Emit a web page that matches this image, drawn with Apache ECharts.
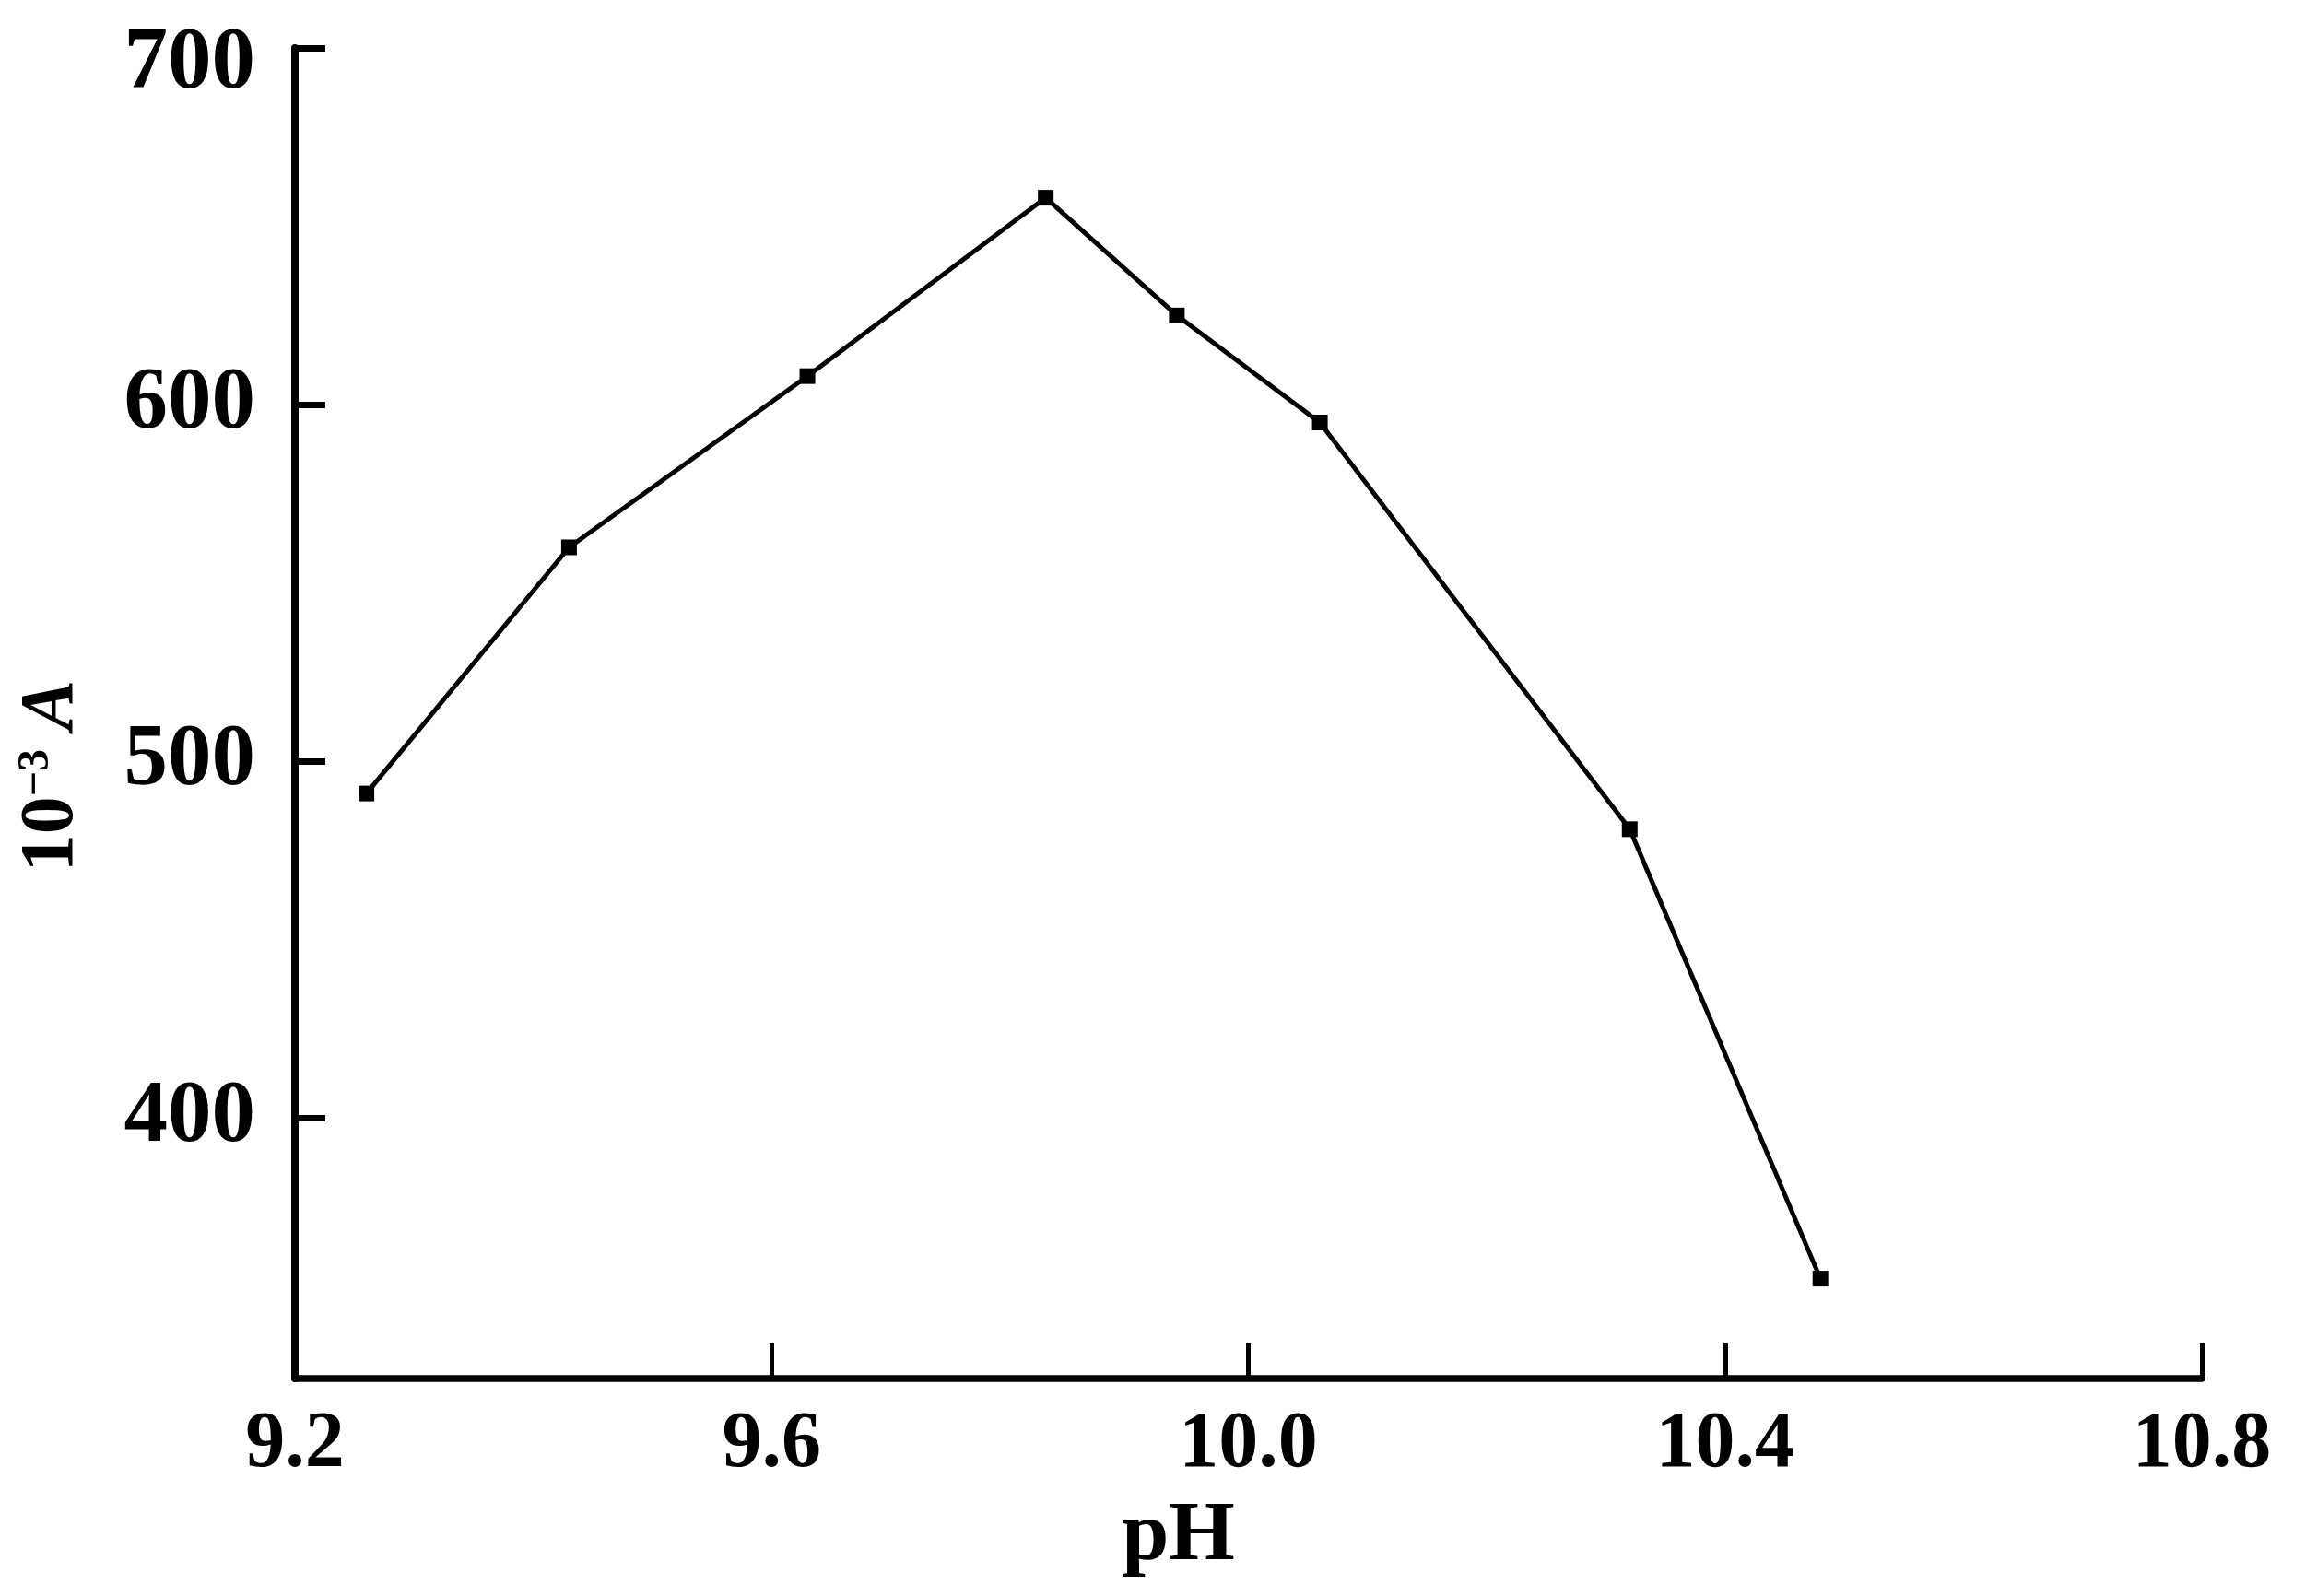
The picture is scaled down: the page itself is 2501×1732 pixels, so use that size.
<!DOCTYPE html>
<html>
<head>
<meta charset="utf-8">
<script src="https://cdn.jsdelivr.net/npm/echarts@6/dist/echarts.min.js"></script>
<style>
  html, body { margin: 0; padding: 0; background: #fff; }
  #chart { width: 2501px; height: 1732px; }
</style>
</head>
<body>
<div id="chart"></div>
<script>
  // pH values and absorbance (10^-3 A)
  var phValues = [9.26, 9.43, 9.63, 9.83, 9.94, 10.06, 10.32, 10.48];
  var absValues = [491, 560, 608, 658, 625, 595, 481, 355];
  var yTicks = [400, 500, 600, 700];

  var serif = '"Liberation Serif", "Times New Roman", serif';

  var points = [];
  for (var i = 0; i < phValues.length; i++) {
    points.push([phValues[i], absValues[i]]);
  }

  var myChart = echarts.init(document.getElementById('chart'));

  myChart.setOption({
    animation: false,
    backgroundColor: '#fff',
    grid: {
      left: 320,
      right: 112,
      top: 52,
      bottom: 236,
      containLabel: false,
      outerBoundsMode: 'none'
    },
    xAxis: {
      type: 'value',
      min: 9.2,
      max: 10.8,
      interval: 0.4,
      splitLine: { show: false },
      axisLine: { lineStyle: { color: '#000', width: 7.5 } },
      axisTick: { inside: true, length: 39, lineStyle: { color: '#000', width: 5 } },
      axisLabel: {
        margin: 30,
        color: '#000',
        fontSize: 86,
        fontWeight: 'bold',
        fontFamily: serif,
        formatter: function (v) { return v.toFixed(1); }
      },
      name: 'pH',
      nameLocation: 'middle',
      nameGap: 126,
      nameTextStyle: {
        color: '#000',
        fontSize: 92,
        fontWeight: 'bold',
        fontFamily: serif,
        padding: [0, 152, 0, 0]
      }
    },
    yAxis: {
      type: 'value',
      min: 327,
      max: 700,
      splitLine: { show: false },
      axisLine: { lineStyle: { color: '#000', width: 8 } },
      axisTick: {
        inside: true,
        length: 33,
        customValues: yTicks,
        lineStyle: { color: '#000', width: 7 }
      },
      axisLabel: {
        margin: 43,
        color: '#000',
        fontSize: 95,
        fontWeight: 'bold',
        fontFamily: serif,
        customValues: yTicks,
        // the top label sits a little below its tick in the original
        formatter: function (v) { return v === 700 ? '{t|700}' : String(v); },
        rich: {
          t: { fontSize: 95, fontWeight: 'bold', fontFamily: serif, color: '#000', padding: [36, 0, 0, 0] }
        }
      },
      name: '{n|10}{s|\u22123}{a| A}',
      nameLocation: 'middle',
      nameRotate: 90,
      nameGap: 222,
      nameTextStyle: {
        color: '#000',
        fontFamily: serif,
        padding: [0, 136, 0, 0],
        rich: {
          n: { fontSize: 82, fontWeight: 'bold', fontFamily: serif, color: '#000' },
          s: { fontSize: 48, fontWeight: 'bold', fontFamily: serif, color: '#000', verticalAlign: 'top' },
          a: { fontSize: 82, fontWeight: 'bold', fontStyle: 'italic', fontFamily: serif, color: '#000' }
        }
      }
    },
    series: [{
      type: 'line',
      data: points,
      symbol: 'rect',
      symbolSize: 17,
      itemStyle: { color: '#000' },
      lineStyle: { color: '#000', width: 5 }
    }]
  });
</script>
</body>
</html>
